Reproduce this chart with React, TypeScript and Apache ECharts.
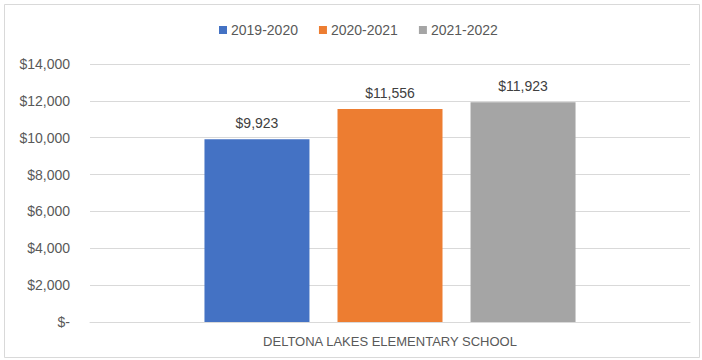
import React, { useEffect, useRef } from "react";
import * as echarts from "echarts";

const categories = ["DELTONA LAKES ELEMENTARY SCHOOL"];
const seriesNames = ["2019-2020", "2020-2021", "2021-2022"];
const seriesValues = [[9923], [11556], [11923]];
const seriesColors = ["#4472C4", "#ED7D31", "#A5A5A5"];
const yTicks = { min: 0, max: 14000, interval: 2000 };

const fmt = (v: number) =>
  v === 0 ? "$-" : "$" + v.toLocaleString("en-US");

export default function App() {
  const ref = useRef<HTMLDivElement>(null);
  useEffect(() => {
    const chart = echarts.init(ref.current!, null, { renderer: "svg" });
    const font = "'Liberation Sans', Arial, sans-serif";
    chart.setOption({
      animation: false,
      textStyle: { fontFamily: font },
      graphic: [
        {
          type: "rect",
          shape: { x: 4.5, y: 4.5, width: 695, height: 353 },
          style: { fill: "none", stroke: "#d9d9d9", lineWidth: 1 },
          silent: true,
        },
      ],
      legend: {
        top: 18,
        left: 214,
        itemWidth: 8,
        itemHeight: 8,
        itemGap: 21,
        icon: "rect",
        textStyle: { color: "#595959", fontSize: 14, fontFamily: font, padding: [0, 0, 0, -1] },
        data: seriesNames,
      },
      grid: { left: 90, right: 12, top: 64, bottom: 38, containLabel: false },
      xAxis: {
        type: "category",
        data: categories,
        axisLine: { lineStyle: { color: "#d9d9d9" } },
        axisTick: { show: false },
        axisLabel: { color: "#595959", fontSize: 13, margin: 13, fontFamily: font },
      },
      yAxis: {
        type: "value",
        min: yTicks.min,
        max: yTicks.max,
        interval: yTicks.interval,
        axisLine: { show: false },
        axisTick: { show: false },
        splitLine: { lineStyle: { color: "#d9d9d9" } },
        axisLabel: {
          color: "#595959",
          fontSize: 14,
          margin: 20,
          fontFamily: font,
          formatter: (v: number) => fmt(v),
        },
      },
      series: seriesNames.map((name, i) => ({
        name,
        type: "bar",
        data: seriesValues[i],
        barWidth: 105,
        barGap: "26.7%",
        itemStyle: { color: seriesColors[i] },
        label: {
          show: true,
          position: "top",
          distance: 9,
          color: "#404040",
          fontSize: 14,
          fontFamily: font,
          formatter: (p: any) => fmt(p.value),
        },
      })),
    });
    return () => chart.dispose();
  }, []);
  return (
    <div
      ref={ref}
      style={{ position: "fixed", left: 0, top: 0, width: 702, height: 360, background: "#fff" }}
    />
  );
}
